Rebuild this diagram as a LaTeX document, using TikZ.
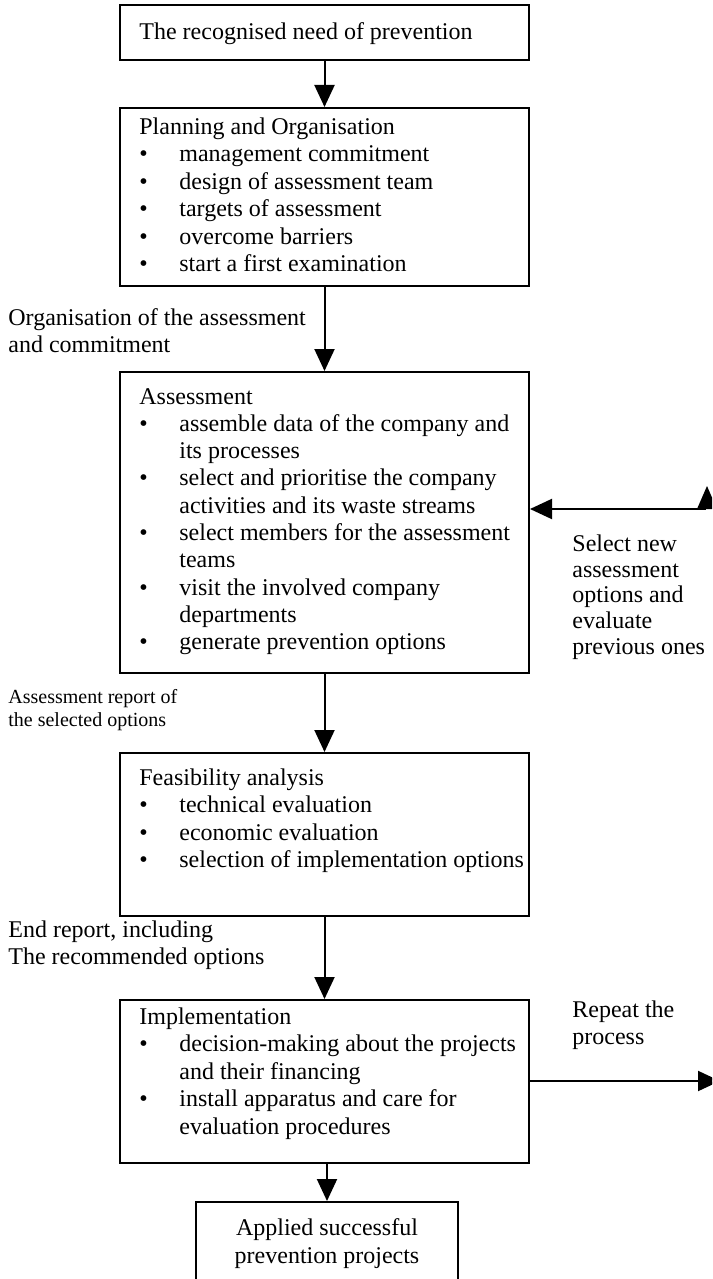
\documentclass[tikz,border=0pt]{standalone}
\usepackage{fontspec}
\setmainfont{Liberation Serif}
\usetikzlibrary{arrows.meta,fit}

\tikzset{
  box/.style={draw, line width=1pt, inner sep=0pt},
  line/.style={anchor=base west, inner sep=0pt, font=\fontsize{12}{13.75}\selectfont},
  cline/.style={anchor=base, inner sep=0pt, font=\fontsize{12}{13.75}\selectfont},
  note/.style={anchor=base west, inner sep=0pt, font=\fontsize{10}{12}\selectfont},
  flow/.style={line width=1pt, -{Triangle[length=11pt,width=10pt]}},
}

% bullet item line: bullet at the bullet column, text at the text column
\newcommand{\bulletat}[3]{%
  \node[line] (#1) at (139,#2) {\textbullet};
  \node[line] (#1t) at (179,#2) {#3};}
\newcommand{\contat}[3]{\node[line] (#1) at (179,#2) {#3};}

\begin{document}
\begin{tikzpicture}[x=0.5pt,y=-0.5pt]
\clip (0,0) rectangle (712,1279);
\fill[white] (0,0) rectangle (712,1279);

% ---- boxes ----
\node[box, fit={(120,5) (529,60)}] (b1) {};
\node[box, fit={(120,108) (529,286)}] (b2) {};
\node[box, fit={(120,372) (529,673)}] (b3) {};
\node[box, fit={(120,753) (529,916)}] (b4) {};
\node[box, fit={(120,1000) (529,1163)}] (b5) {};
\node[box, fit={(196,1202) (458,1292)}] (b6) {};

% ---- box texts ----
\node[line] (t1) at (139,40) {The recognised need of prevention};

\node[line] (t2) at (139,134) {Planning and Organisation};
\bulletat{p1}{161.5}{management commitment}
\bulletat{p2}{189}{design of assessment team}
\bulletat{p3}{216.5}{targets of assessment}
\bulletat{p4}{244}{overcome barriers}
\bulletat{p5}{271.5}{start a first examination}

\node[line] (t3) at (139,404) {Assessment};
\bulletat{s1}{431.3}{assemble data of the company and}
\contat{s1b}{458.6}{its processes}
\bulletat{s2}{485.9}{select and prioritise the company}
\contat{s2b}{513.2}{activities and its waste streams}
\bulletat{s3}{540.5}{select members for the assessment}
\contat{s3b}{567.8}{teams}
\bulletat{s4}{595.1}{visit the involved company}
\contat{s4b}{622.4}{departments}
\bulletat{s5}{649.7}{generate prevention options}

\node[line] (t4) at (139,785) {Feasibility analysis};
\bulletat{f1}{812.5}{technical evaluation}
\bulletat{f2}{840}{economic evaluation}
\bulletat{f3}{867.5}{selection of implementation options}

\node[line] (t5) at (139,1024) {Implementation};
\bulletat{i1}{1051.5}{decision-making about the projects}
\contat{i1b}{1079}{and their financing}
\bulletat{i2}{1106.5}{install apparatus and care for}
\contat{i2b}{1134}{evaluation procedures}

\node[cline] (t6a) at (327,1235) {Applied successful};
\node[cline] (t6b) at (327,1263) {prevention projects};

% ---- connector labels ----
\node[line] (l1a) at (8,325) {Organisation of the assessment};
\node[line] (l1b) at (8,352) {and commitment};
\node[note] (l2a) at (8,703) {Assessment report of};
\node[note] (l2b) at (8,726) {the selected options};
\node[line] (l3a) at (8,937) {End report, including};
\node[line] (l3b) at (8,964) {The recommended options};
\node[line] (l4a) at (572,551) {Select new};
\node[line] (l4b) at (572,577) {assessment};
\node[line] (l4c) at (572,602) {options and};
\node[line] (l4d) at (572,628) {evaluate};
\node[line] (l4e) at (572,654) {previous ones};
\node[line] (l5a) at (572,1017) {Repeat the};
\node[line] (l5b) at (572,1044) {process};

% ---- connectors ----
\draw[flow] (b1.south) -- (b2.north);
\draw[flow] (b2.south) -- (b3.north);
\draw[flow] (b3.south) -- (b4.north);
\draw[flow] (b4.south) -- (b5.north);
\draw[flow] (b5.south -| b6.north) -- (b6.north);

% feedback into the assessment box, entering from the cut-off right loop
\coordinate (fbR) at (706,509);
\draw[flow] (fbR) -- (b3.east |- fbR);
\fill (697,509) -- (717,509) -- (707,486) -- cycle;

% repeat arrow leaving to the right
\coordinate (rpR) at (720,1081);
\draw[flow] (b5.east |- rpR) -- (rpR);
\end{tikzpicture}
\end{document}
